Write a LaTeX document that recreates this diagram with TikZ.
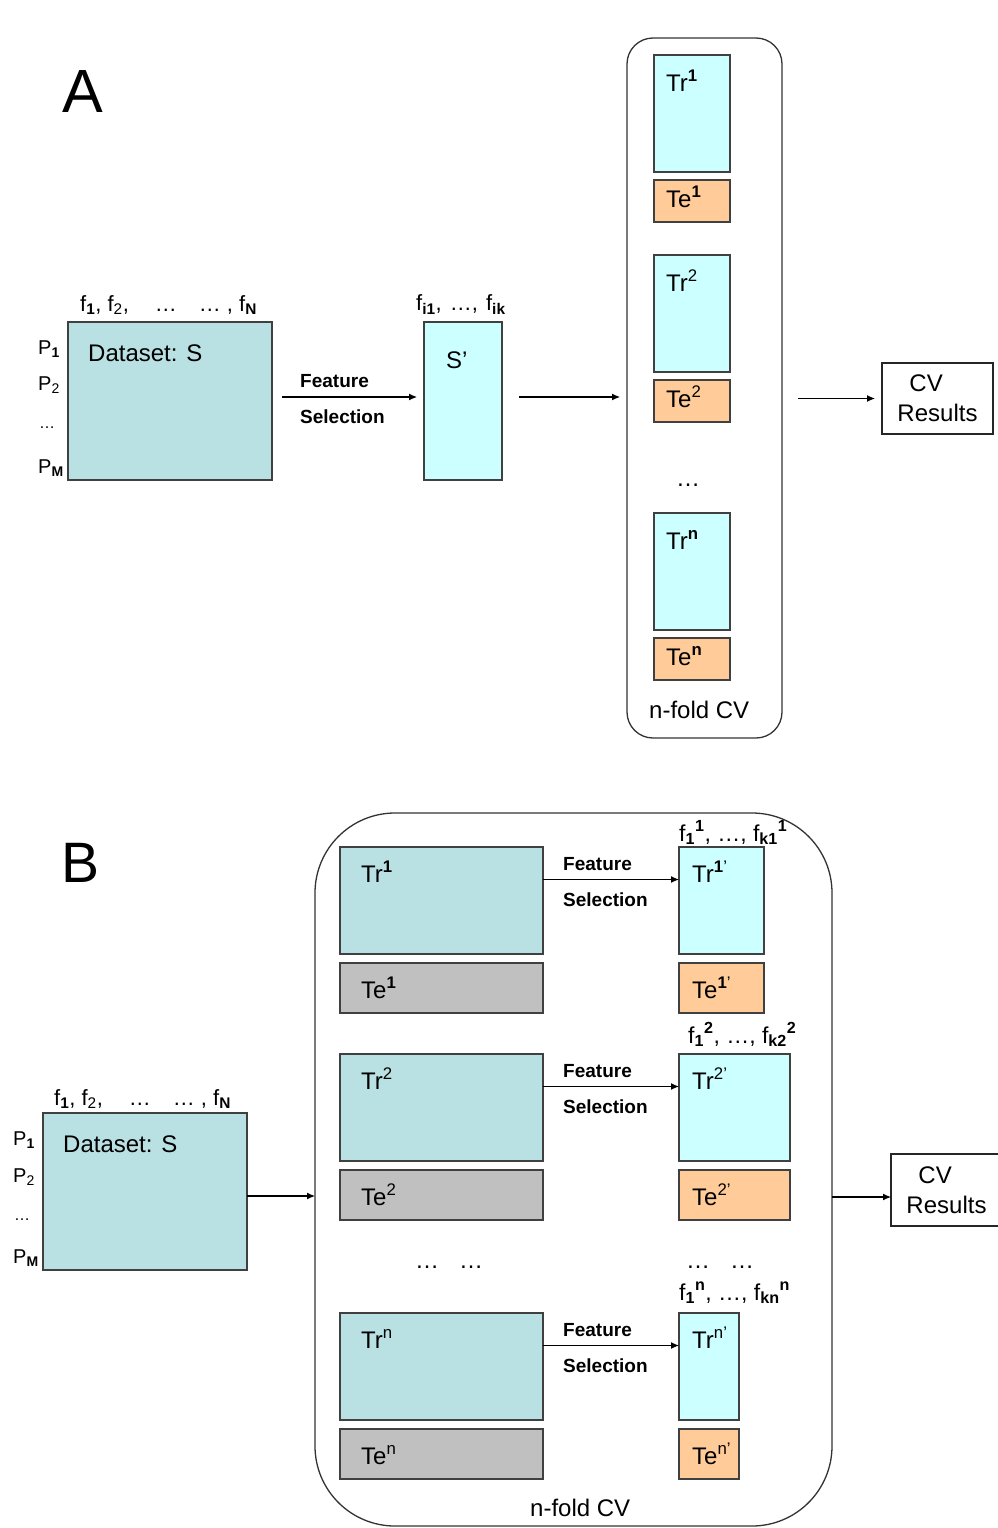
\documentclass[tikz,border=0pt]{standalone}
\usepackage{fontspec}
\setmainfont{Liberation Sans}
\usetikzlibrary{arrows.meta,positioning}
\definecolor{datblue}{HTML}{B9E0E3}
\definecolor{trcyan}{HTML}{CCFFFF}
\definecolor{teorange}{HTML}{FFCC99}
\definecolor{tegray}{HTML}{C0C0C0}
\begin{document}
\begin{tikzpicture}[x=1pt, y=-1pt,
    box/.style={draw=black!75, line width=1.2pt, anchor=north west, inner sep=0pt, outer sep=0pt},
    fold/.style={box, draw=black!80, line width=1.3pt},
    cvbox/.style={box, draw=black!85, align=left, font=\fontsize{24}{30}\selectfont, minimum width=111pt, minimum height=71pt},
    txt/.style={anchor=base west, inner sep=0pt, font=\fontsize{24}{30}\selectfont},
    hdr/.style={txt, font=\fontsize{22}{26}\selectfont},
    plab/.style={txt, font=\fontsize{20}{24}\selectfont},
    fsel/.style={txt, font=\fontsize{19}{23}\selectfont\bfseries},
    arr/.style={-{Latex[length=8pt,width=7pt]}, line width=1.1pt}]
    \useasboundingbox (0,0) rectangle (997,1528);

    \node[txt, font=\fontsize{61}{61}\selectfont] (labA) at (62,112) {A};
    \node[box, fill=datblue, minimum width=204pt, minimum height=158pt] (dataA) at (68,322) {};
    \node[txt] (dataAt) at ([shift={(20,39)}]dataA.north west) {Dataset: S};
    \node[hdr] (hdrA) at (80,311) {f\textsubscript{\textbf{1}}, f\textsubscript{2},\hspace{26pt}…\hspace{22pt}… , f\textsubscript{\textbf{N}}};
    \node[plab] (pA1) at (38,354) {P\textsubscript{\textbf{1}}};
    \node[plab] (pA2) at (38,390) {P\textsubscript{2}};
    \node[plab, font=\fontsize{16}{20}\selectfont] (pAd) at (39,428) {…};
    \node[plab] (pAM) at (38,473) {P\textsubscript{\textbf{M}}};

    \node[box, fill=trcyan, minimum width=78pt, minimum height=158pt] (selA) at (424,322) {};
    \node[txt] (selAt) at ([shift={(22,46)}]selA.north west) {S’};
    \node[hdr] (hdrS) at (416,310) {f\textsubscript{\textbf{i1}}, \hspace{2pt}…, \hspace{2pt}f\textsubscript{\textbf{ik}}};
    \draw[arr] ([shift={(10,-4)}]dataA.east) -- ([shift={(-7,-4)}]selA.west);
    \node[fsel] (featA) at (300,387) {Feature};
    \node[fsel] (seleA) at (300,423) {Selection};

    \node[fold, rounded corners=26pt, minimum width=155pt, minimum height=700pt] (foldA) at (627,38) {};
    \foreach \i/\y/\s in {1/55/{\textbf{1}}, 2/255/2, n/513/{\textbf{n}}} {
        \node[box, fill=trcyan, minimum width=76pt, minimum height=117pt] (trA\i) at (654,\y) {};
        \node[txt] at ([shift={(12,36)}]trA\i.north west) {Tr\textsuperscript{\s}};
        \node[box, fill=teorange, minimum width=76pt, minimum height=42pt] (teA\i) at ([shift={(0,8)}]trA\i.south west) {};
        \node[txt] at ([shift={(12,27)}]teA\i.north west) {Te\textsuperscript{\s}};
    }
    \node[txt] (dotsA) at (676,486) {…};
    \node[txt] (nfoldA) at (649,718) {n-fold CV};
    \node[cvbox] (cvA) at (882,363) {\hspace*{12pt}CV\\Results};
    \draw[arr, shorten <=17pt, shorten >=7pt] ([shift={(0,-4)}]selA.east) -- ([shift={(0,-4)}]selA.east -| foldA.west);
    \draw[arr, shorten <=16pt, shorten >=7pt] (cvA.west -| foldA.east) -- (cvA.west);

    \node[txt, font=\fontsize{57}{57}\selectfont] (labB) at (61,882) {B};
    \node[box, fill=datblue, minimum width=204pt, minimum height=157pt] (dataB) at (43,1113) {};
    \node[txt] (dataBt) at ([shift={(20,39)}]dataB.north west) {Dataset: S};
    \node[hdr] (hdrB) at (54,1105) {f\textsubscript{\textbf{1}}, f\textsubscript{2},\hspace{26pt}…\hspace{22pt}… , f\textsubscript{\textbf{N}}};
    \node[plab] (pB1) at (13,1145) {P\textsubscript{\textbf{1}}};
    \node[plab] (pB2) at (13,1182) {P\textsubscript{2}};
    \node[plab, font=\fontsize{16}{20}\selectfont] (pBd) at (14,1220) {…};
    \node[plab] (pBM) at (13,1263) {P\textsubscript{\textbf{M}}};

    \node[fold, rounded corners=80pt, minimum width=517pt, minimum height=713pt] (foldB) at (315,813) {};
    \foreach \i/\y/\w/\hx/\hy/\s in {1/847/85/679/841/{\textbf{1}}, 2/1054/111/688/1043/2, n/1313/60/679/1300/n} {
        \node[box, fill=datblue, minimum width=203pt, minimum height=107pt] (trB\i) at (340,\y) {};
        \node[txt] at ([shift={(21,35)}]trB\i.north west) {Tr\textsuperscript{\s}};
        \node[box, fill=tegray, minimum width=203pt, minimum height=50pt] (teB\i) at ([shift={(0,9)}]trB\i.south west) {};
        \node[txt] at ([shift={(21,35)}]teB\i.north west) {Te\textsuperscript{\s}};
        \node[box, fill=trcyan, minimum width=\w pt, minimum height=107pt] (trpB\i) at (679,\y) {};
        \node[txt] at ([shift={(13,35)}]trpB\i.north west) {Tr\textsuperscript{\s’}};
        \node[box, fill=teorange, minimum width=\w pt, minimum height=50pt] (tepB\i) at ([shift={(0,9)}]trpB\i.south west) {};
        \node[txt] at ([shift={(13,35)}]tepB\i.north west) {Te\textsuperscript{\s’}};
        \node[hdr, font=\fontsize{23}{27}\selectfont] at (\hx,\hy) {f\textsubscript{\textbf{1}}\textsuperscript{\textbf{\i}}, …, f\textsubscript{\textbf{k\i}}\textsuperscript{\textbf{\i}}};
        \draw[arr] ([shift={(0,-21)}]trB\i.east) -- ([shift={(0,-21)}]trB\i.east -| trpB\i.west);
        \node[fsel] at (563,\y+23) {Feature};
        \node[fsel] at (563,\y+59) {Selection};
    }
    \node[txt] (dotsB1) at (415,1268) {…\hspace{20pt}…};
    \node[txt] (dotsB2) at (686,1268) {…\hspace{20pt}…};
    \node[txt] (nfoldB) at (530,1516) {n-fold CV};
    \node[cvbox, minimum height=72pt] (cvB) at (891,1154) {\hspace*{12pt}CV\\Results};
    \draw[arr] ([shift={(0,4.5)}]dataB.east) -- ([shift={(0,4.5)}]dataB.east -| foldB.west);
    \draw[arr] ([shift={(0,7)}]cvB.west -| foldB.east) -- ([shift={(0,7)}]cvB.west);
\end{tikzpicture}
\end{document}
